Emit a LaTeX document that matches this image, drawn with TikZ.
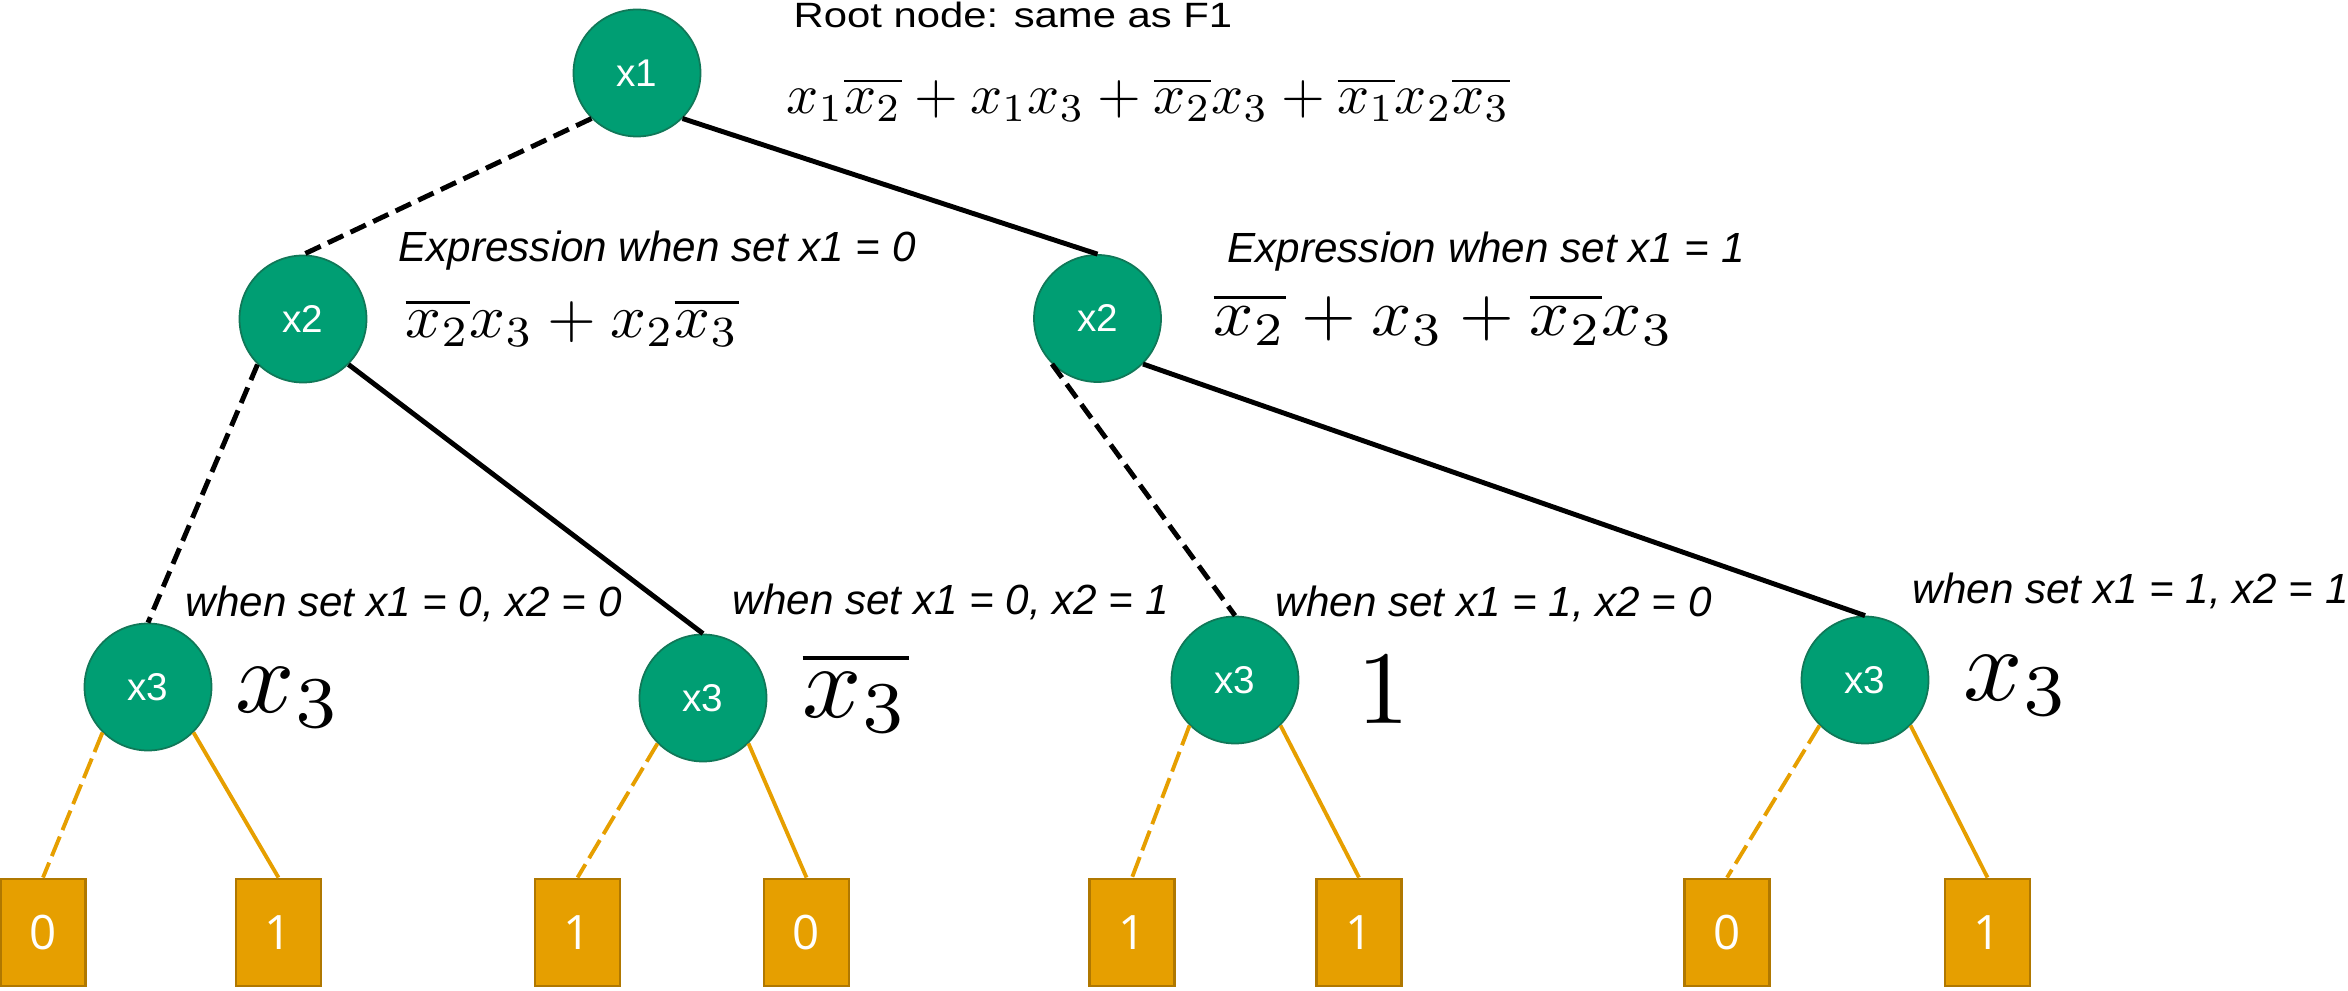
\documentclass[tikz,border=0pt]{standalone}
\usepackage{fontspec}
\usepackage{graphicx}
\usepackage{tikz}
\usepackage{xcolor}
\setmainfont{Liberation Sans}
\newfontfamily\leaffont{Open Sans}
\usetikzlibrary{positioning}

\definecolor{bddgreen}{RGB}{0,158,115}
\definecolor{bddgreenline}{RGB}{16,120,88}
\definecolor{bddorange}{RGB}{230,159,0}
\definecolor{bddorangeline}{RGB}{176,120,0}

\newcommand{\bigmath}[1]{\scalebox{2.96}{$#1$}}

\tikzset{
  var/.style={circle, fill=bddgreen, draw=bddgreenline, line width=0.5pt,
    minimum size=1.27cm, inner sep=0pt, text=white, font=\fontsize{11}{13}\selectfont},
  leaf/.style={rectangle, fill=bddorange, draw=bddorangeline, line width=0.8pt,
    minimum width=0.85cm, minimum height=1.07cm, inner sep=0pt, text=white,
    font=\leaffont\fontsize{13.5}{16}\selectfont},
  hiedge/.style={line width=1.4pt},
  loedge/.style={line width=1.4pt, dash pattern=on 4.8pt off 2.3pt},
  hileaf/.style={bddorange, line width=1.1pt},
  loleaf/.style={bddorange, line width=1.1pt, dash pattern=on 6pt off 2pt},
  note/.style={anchor=base west, inner sep=0pt, font=\itshape\fontsize{12}{14}\selectfont},
  expr/.style={anchor=north west, inner sep=0pt},
  bigexpr/.style={anchor=base west, inner sep=0pt, font=\fontsize{10}{12}\selectfont}
}

\begin{document}
\begin{tikzpicture}[scale=1]
  \useasboundingbox (0,0) rectangle (23.48,9.9);

  % Variable nodes
  \node[var] (x1) at (6.37, 9.17) {x1};
  \node[var] (x2lo) at (3.03, 6.71) {x2};
  \node[var] (x2hi) at (10.975, 6.715) {x2};
  \node[var] (x3ll) at (1.48, 3.03) {x3};
  \node[var] (x3lh) at (7.03, 2.92) {x3};
  \node[var] (x3hl) at (12.35, 3.10) {x3};
  \node[var] (x3hh) at (18.65, 3.10) {x3};

  % Terminal nodes
  \node[leaf] (t1) at (0.43, 0.575) {0};
  \node[leaf] (t2) at (2.785, 0.575) {1};
  \node[leaf] (t3) at (5.775, 0.575) {1};
  \node[leaf] (t4) at (8.065, 0.575) {0};
  \node[leaf] (t5) at (11.32, 0.575) {1};
  \node[leaf] (t6) at (13.59, 0.575) {1};
  \node[leaf] (t7) at (17.27, 0.575) {0};
  \node[leaf] (t8) at (19.875, 0.575) {1};

  % Edges (dashed = 0, solid = 1)
  \draw[loedge] (x1.south west) -- (x2lo.north);
  \draw[hiedge] (x1.south east) -- (x2hi.north);
  \draw[loedge] (x2lo.south west) -- (x3ll.north);
  \draw[hiedge] (x2lo.south east) -- (x3lh.north);
  \draw[loedge] (x2hi.south west) -- (x3hl.north);
  \draw[hiedge] (x2hi.south east) -- (x3hh.north);

  \draw[loleaf] (x3ll.south west) -- (t1.north);
  \draw[hileaf] (x3ll.south east) -- (t2.north);
  \draw[loleaf] (x3lh.south west) -- (t3.north);
  \draw[hileaf] (x3lh.south east) -- (t4.north);
  \draw[loleaf] (x3hl.south west) -- (t5.north);
  \draw[hileaf] (x3hl.south east) -- (t6.north);
  \draw[loleaf] (x3hh.south west) -- (t7.north);
  \draw[hileaf] (x3hh.south east) -- (t8.north);

  % Labels
  \node[anchor=base west, inner sep=0pt, font=\fontsize{10}{12}\selectfont] (roottxt) at (7.93, 9.62)
    {\scalebox{1.19}[1]{Root node: same as F1}};
  \node[expr] (rootexpr) at (7.86, 9.13)
    {\resizebox*{7.23cm}{0.44cm}{$x_1\overline{x_2}+x_1x_3+\overline{x_2}x_3+\overline{x_1}x_2\overline{x_3}$}};

  \node[note] (lotxt) at (3.98, 7.28) {Expression when set x1 = 0};
  \node[expr] (loexpr) at (4.05, 6.92)
    {\resizebox*{3.33cm}{0.48cm}{$\overline{x_2}x_3+x_2\overline{x_3}$}};
  \node[note] (hitxt) at (12.27, 7.27) {Expression when set x1 = 1};
  \node[expr] (hiexpr) at (12.13, 6.97)
    {\resizebox*{4.60cm}{0.52cm}{$\overline{x_2}+x_3+\overline{x_2}x_3$}};

  \node[note] (lltxt) at (1.85, 3.74) {when set x1 = 0, x2 = 0};
  \node[note] (lhtxt) at (7.32, 3.75) {when set x1 = 0, x2 = 1};
  \node[note] (hltxt) at (12.75, 3.74) {when set x1 = 1, x2 = 0};
  \node[note] (hhtxt) at (19.12, 3.87) {when set x1 = 1, x2 = 1};

  \node[bigexpr] (llexpr) at (2.35, 2.78) {\bigmath{x_3}};
  \node[bigexpr] (lhexpr) at (8.02, 2.73) {\bigmath{\overline{x_3}}};
  \node[bigexpr, anchor=base] (hlexpr) at (13.835, 2.67) {\bigmath{1}};
  \node[bigexpr] (hhexpr) at (19.63, 2.90) {\bigmath{x_3}};
\end{tikzpicture}
\end{document}
